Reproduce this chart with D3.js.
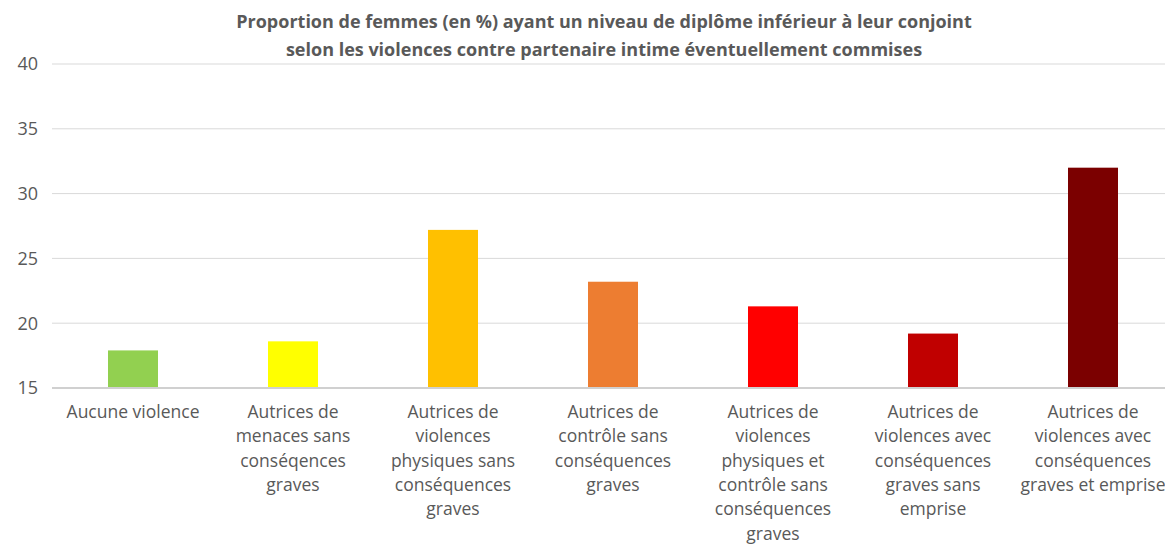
<!DOCTYPE html>
<html>
<head>
<meta charset="utf-8">
<script src="https://cdn.jsdelivr.net/npm/d3@7"></script>
<style>
  body { margin: 0; background: #fff; }
  text { font-family: "Open Sans", "Noto Sans", sans-serif; fill: #595959; }
</style>
</head>
<body>
<div id="chart"></div>
<script>
const categories = [
  ['Aucune violence'],
  ['Autrices de', 'menaces sans', 'conséqences', 'graves'],
  ['Autrices de', 'violences', 'physiques sans', 'conséquences', 'graves'],
  ['Autrices de', 'contrôle sans', 'conséquences', 'graves'],
  ['Autrices de', 'violences', 'physiques et', 'contrôle sans', 'conséquences', 'graves'],
  ['Autrices de', 'violences avec', 'conséquences', 'graves sans', 'emprise'],
  ['Autrices de', 'violences avec', 'conséquences', 'graves et emprise']
];
const values = [17.9, 18.6, 27.2, 23.2, 21.3, 19.2, 32.0];
const colors = ['#92d050', '#ffff00', '#ffc000', '#ed7d31', '#ff0000', '#c00000', '#7b0000'];
const yTicks = [15, 20, 25, 30, 35, 40];
const titleLines = [
  'Proportion de femmes (en %) ayant un niveau de diplôme inférieur à leur conjoint',
  'selon les violences contre partenaire intime éventuellement commises'
];

const width = 1165;
const height = 545;

const svg = d3.select('#chart')
  .append('svg')
  .attr('width', width)
  .attr('height', height);

const x = d3.scaleBand()
  .domain(d3.range(categories.length))
  .range([53, 1173])
  .paddingInner(0.6875)
  .paddingOuter(0.34375);

const y = d3.scaleLinear()
  .domain([15, 40])
  .range([388, 64]);

// gridlines
svg.append('g')
  .selectAll('line')
  .data(yTicks.slice(1))
  .enter()
  .append('line')
  .attr('x1', 52)
  .attr('x2', width)
  .attr('y1', d => y(d))
  .attr('y2', d => y(d))
  .attr('stroke', '#d9d9d9')
  .attr('stroke-width', 1);

// y labels
svg.append('g')
  .selectAll('text')
  .data(yTicks)
  .enter()
  .append('text')
  .attr('x', 38)
  .attr('y', d => y(d))
  .attr('dy', '0.35em')
  .attr('text-anchor', 'end')
  .style('font-size', '18px')
  .text(d => d);

// bars
svg.append('g')
  .selectAll('rect')
  .data(values)
  .enter()
  .append('rect')
  .attr('x', (d, i) => x(i))
  .attr('width', x.bandwidth())
  .attr('y', d => y(d))
  .attr('height', d => y(15) - y(d))
  .attr('fill', (d, i) => colors[i]);

// baseline
svg.append('line')
  .attr('x1', 52)
  .attr('x2', width)
  .attr('y1', y(15))
  .attr('y2', y(15))
  .attr('stroke', '#d0d0d0')
  .attr('stroke-width', 2);

// category labels
const lbl = svg.append('g')
  .selectAll('text')
  .data(categories)
  .enter()
  .append('text')
  .attr('text-anchor', 'middle')
  .style('font-size', '17.5px')
  .attr('transform', (d, i) => `translate(${x(i) + x.bandwidth() / 2},418)`);

lbl.selectAll('tspan')
  .data(d => d)
  .enter()
  .append('tspan')
  .attr('x', 0)
  .attr('y', (d, i) => i * 24.3)
  .text(d => d);

// title
svg.append('g')
  .selectAll('text')
  .data(titleLines)
  .enter()
  .append('text')
  .attr('x', 604)
  .attr('y', (d, i) => 28 + i * 28)
  .attr('text-anchor', 'middle')
  .style('font-size', '18px')
  .style('font-weight', 'bold')
  .text(d => d);
</script>
</body>
</html>
